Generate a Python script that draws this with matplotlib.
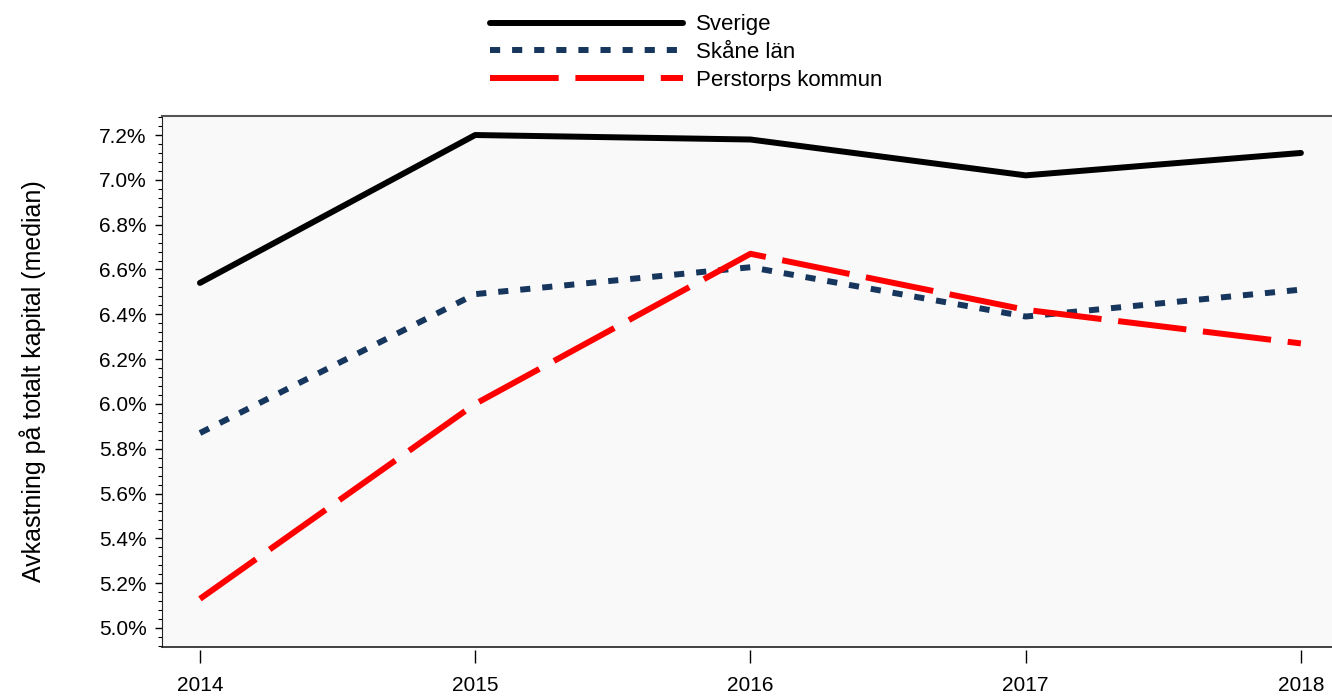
import numpy as np
import matplotlib
matplotlib.use("Agg")
import matplotlib.pyplot as plt
from matplotlib.ticker import FuncFormatter, MultipleLocator

plt.rcParams['font.family'] = ['Liberation Sans', 'DejaVu Sans']
plt.rcParams['font.size'] = 15

years = [2014, 2015, 2016, 2017, 2018]
sverige = [6.54, 7.20, 7.18, 7.02, 7.12]
skane = [5.87, 6.49, 6.61, 6.39, 6.51]
perstorp = [5.13, 6.00, 6.67, 6.42, 6.27]

fig = plt.figure(figsize=(13.32, 6.97), dpi=100)
ax = fig.add_axes([0.1216, 0.0717, 0.8784, 0.7619])
ax.set_facecolor('#f9f9f9')

ax.plot(years, sverige, color='black', lw=4.3, solid_capstyle='round', label='Sverige')
ax.plot(years, skane, color='#17365d', lw=4.3, dashes=(1.7, 2.0), label='Skåne län')
ax.plot(years, perstorp, color='#ff0000', lw=4.3, dashes=(11.5, 2.8), label='Perstorps kommun')

ax.set_xlim(2013.862, 2018.113)
ax.set_ylim(4.915, 7.285)
ax.set_xticks(years)
ax.yaxis.set_major_locator(MultipleLocator(0.2))
ax.yaxis.set_minor_locator(MultipleLocator(0.04))
ax.yaxis.set_major_formatter(FuncFormatter(lambda v, p: f'{v:.1f}%'))

ax.tick_params(axis='y', which='major', direction='out', length=5, width=1, pad=6, labelsize=15)
ax.tick_params(axis='y', which='minor', direction='out', length=3, width=0.8)
ax.tick_params(axis='x', direction='out', length=9, width=1, pad=10, labelsize=15)

ax.spines['right'].set_visible(False)
ax.spines['top'].set_color('#555555')
ax.spines['top'].set_linewidth(1.5)
ax.spines['left'].set_color('#222222')
ax.spines['bottom'].set_position(('outward', 2))
ax.spines['bottom'].set_visible(False)
ax.plot([0, 1], [0, 0], transform=ax.transAxes, color='#222222', lw=1.2, clip_on=False)

ax.set_ylabel('Avkastning på totalt kapital (median)', fontsize=18, labelpad=38)

fig.legend(loc='upper center', bbox_to_anchor=(0.515, 1.008), frameon=False,
           handlelength=8.7, handletextpad=0.55, labelspacing=0.3, fontsize=16)

fig.savefig('out.png', dpi=100)
